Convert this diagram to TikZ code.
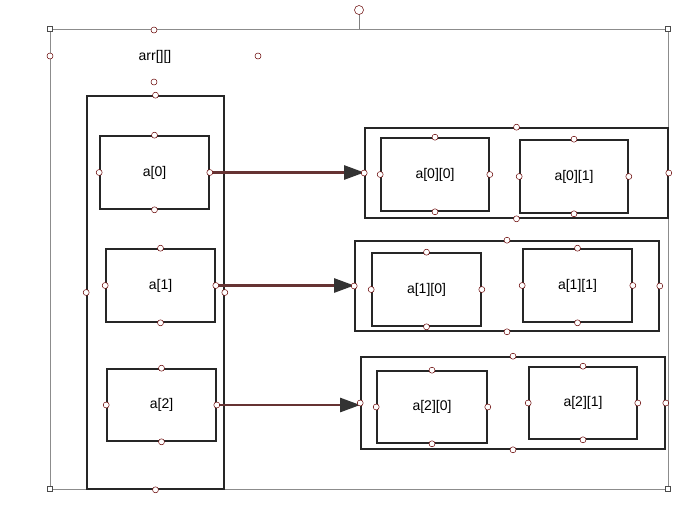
\documentclass[tikz,border=0pt]{standalone}
\usepackage{fontspec}
\setmainfont{Liberation Sans}
\usetikzlibrary{arrows.meta}
\begin{document}
\begin{tikzpicture}[x=1pt,y=-1pt,
  box/.style={draw=black!85,line width=1.6pt,inner sep=0pt,font=\fontsize{14}{16}\selectfont},
  hd/.style={circle,draw=red!40!black,fill=white,inner sep=0pt,minimum size=6pt,line width=0.5pt},
  sq/.style={rectangle,draw=black!70,fill=white,inner sep=0pt,minimum size=5pt,line width=0.5pt},
  arr/.style={line width=2.4pt,draw=red!25!black!80,-{Triangle[length=20pt,width=14pt,color=black!80]}}]
\useasboundingbox (0,0) rectangle (699,528);
\newcommand{\bx}[6]{\node[box,minimum width=#4-#2,minimum height=#5-#3] (#1) at ({(#2+#4)/2},{(#3+#5)/2}) {#6};}
\newcommand{\hs}[1]{\foreach \a in {north,south,east,west} \node[hd] at (#1.\a) {};}
% selection frame
\node[draw=black!45,line width=0.4pt,minimum width=618pt,minimum height=460pt,inner sep=0pt] (sel) at (359,259) {};
\coordinate (rot) at (359,10);
\draw[black!50,line width=0.5pt] (sel.north) -- (rot);
\node[hd,minimum size=9pt] at (rot) {};
\foreach \a in {north west,north east,south west,south east} \node[sq] at (sel.\a) {};
% label
\node[inner sep=0pt,font=\fontsize{14}{16}\selectfont] (lbl) at (155,57) {arr[][]};
\foreach \p in {(154,30),(50,56),(258,56),(154,82)} \node[hd] at \p {};
% column
\bx{col}{87}{96}{224}{489}{}
\bx{a0}{100}{136}{209}{209}{a[0]}
\bx{a1}{106}{249}{215}{322}{a[1]}
\bx{a2}{107}{369}{216}{441}{a[2]}
% groups
\bx{g0}{365}{128}{668}{218}{}
\bx{a00}{381}{138}{489}{211}{a[0][0]}
\bx{a01}{520}{140}{628}{213}{a[0][1]}
\bx{g1}{355}{241}{659}{331}{}
\bx{a10}{372}{253}{481}{326}{a[1][0]}
\bx{a11}{523}{249}{632}{322}{a[1][1]}
\bx{g2}{361}{357}{665}{449}{}
\bx{a20}{377}{371}{487}{443}{a[2][0]}
\bx{a21}{529}{367}{637}{439}{a[2][1]}
% arrows
\draw[arr] (a0.east) -- (a0.east -| g0.west);
\draw[arr] (a1.east) -- (a1.east -| g1.west);
\draw[arr] (a2.east) -- (a2.east -| g2.west);
% handles
\foreach \n in {col,a0,a1,a2,g0,a00,a01,g1,a10,a11,g2,a20,a21} {\hs{\n}}
\end{tikzpicture}
\end{document}
